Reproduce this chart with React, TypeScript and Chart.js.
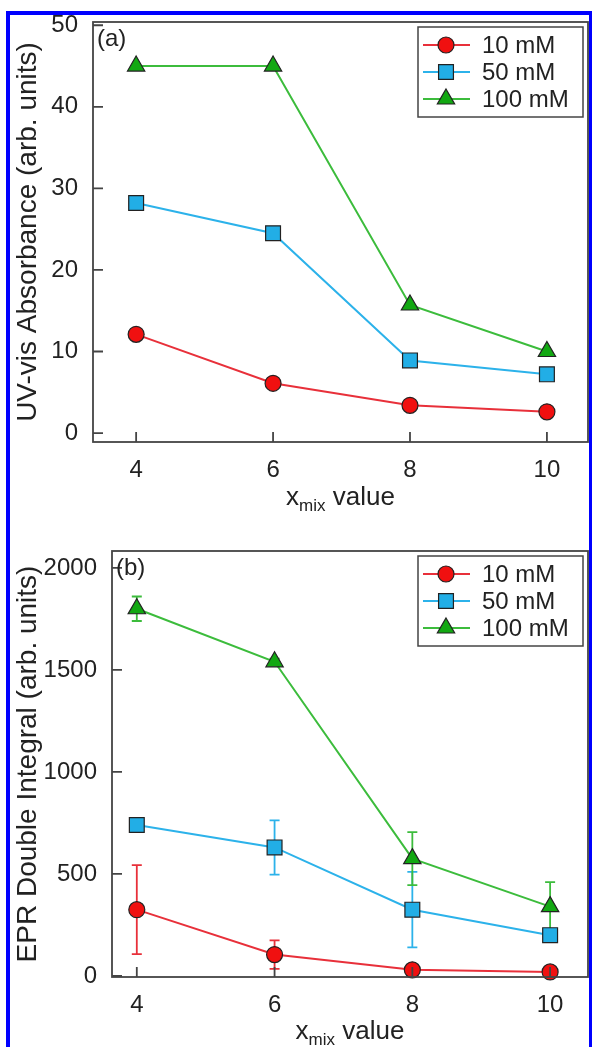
import React, { useEffect, useRef } from "react";
import { Chart, registerables } from "chart.js";

Chart.register(...registerables);

// ---------- data ----------
const X_VALUES = [4, 6, 8, 10];
const X_TICKS = [4, 6, 8, 10];
const SERIES_LABELS = ["10 mM", "50 mM", "100 mM"];

const UV_10 = [12.1, 6.1, 3.4, 2.6];
const UV_50 = [28.2, 24.5, 8.9, 7.2];
const UV_100 = [45.0, 45.0, 15.7, 10.0];
const UV_Y_TICKS = [0, 10, 20, 30, 40, 50];

const EPR_10 = [325, 105, 30, 20];
const EPR_50 = [740, 630, 325, 200];
const EPR_100 = [1800, 1540, 575, 340];
const EPR_10_ERR = [218, 70, 10, 5];
const EPR_50_ERR = [0, 133, 185, 10];
const EPR_100_ERR = [60, 15, 130, 120];
const EPR_Y_TICKS = [0, 500, 1000, 1500, 2000];

// ---------- styles ----------
const LINE_COLORS = ["#e8303a", "#2cb2ea", "#3cbc3c"];
const FILL_COLORS = ["#f01010", "#22aee6", "#12a812"];
const POINT_STYLES = ["circle", "rect", "triangle"];
const POINT_RADII = [8, 10.5, 10];
const FONT = "'Liberation Sans', Arial, sans-serif";
const TEXT = "#222";
const AXIS = "#444";

function drawMarker(ctx: CanvasRenderingContext2D, style: string, x: number, y: number, r: number) {
  ctx.beginPath();
  if (style === "circle") {
    ctx.arc(x, y, r, 0, Math.PI * 2);
  } else if (style === "rect") {
    const s = Math.SQRT1_2 * r;
    ctx.rect(x - s, y - s, 2 * s, 2 * s);
  } else {
    ctx.moveTo(x, y - r);
    ctx.lineTo(x + Math.sin((2 * Math.PI) / 3) * r, y - Math.cos((2 * Math.PI) / 3) * r);
    ctx.lineTo(x + Math.sin((4 * Math.PI) / 3) * r, y - Math.cos((4 * Math.PI) / 3) * r);
    ctx.closePath();
  }
  ctx.fill();
  ctx.stroke();
}

function makeDecor(panel: string, xTitleY: number, errors: number[][] | null) {
  return {
    id: "decor",
    beforeDatasetsDraw(chart: any) {
      if (!errors) return;
      const ctx = chart.ctx;
      const xs = chart.scales.x;
      const ys = chart.scales.y;
      ctx.save();
      chart.data.datasets.forEach((ds: any, i: number) => {
        ds.data.forEach((pt: any, j: number) => {
          const e = errors[i][j];
          if (!e) return;
          const px = xs.getPixelForValue(pt.x);
          const y1 = ys.getPixelForValue(pt.y + e);
          const y2 = ys.getPixelForValue(pt.y - e);
          ctx.strokeStyle = LINE_COLORS[i];
          ctx.lineWidth = 1.8;
          ctx.beginPath();
          ctx.moveTo(px, y1);
          ctx.lineTo(px, y2);
          ctx.moveTo(px - 5, y1);
          ctx.lineTo(px + 5, y1);
          ctx.moveTo(px - 5, y2);
          ctx.lineTo(px + 5, y2);
          ctx.stroke();
        });
      });
      ctx.restore();
    },
    afterDraw(chart: any) {
      const ctx = chart.ctx;
      const a = chart.chartArea;
      const xs = chart.scales.x;
      const ys = chart.scales.y;
      ctx.save();
      // frame
      ctx.strokeStyle = AXIS;
      ctx.lineWidth = 1.8;
      ctx.strokeRect(a.left, a.top, a.right - a.left, a.bottom - a.top);
      // inward ticks
      ctx.beginPath();
      xs.ticks.forEach((t: any) => {
        const px = xs.getPixelForValue(t.value);
        ctx.moveTo(px, a.bottom);
        ctx.lineTo(px, a.bottom - 10);
      });
      ys.ticks.forEach((t: any) => {
        const py = ys.getPixelForValue(t.value);
        ctx.moveTo(a.left, py);
        ctx.lineTo(a.left + 10, py);
      });
      ctx.stroke();
      // panel label
      ctx.fillStyle = TEXT;
      ctx.font = `24px ${FONT}`;
      ctx.textAlign = "left";
      ctx.textBaseline = "middle";
      ctx.fillText(panel, a.left + 4, a.top + 17);
      // x title with subscript
      const big = `26px ${FONT}`;
      const small = `17px ${FONT}`;
      ctx.font = big;
      const w1 = ctx.measureText("x").width;
      const w3 = ctx.measureText(" value").width;
      ctx.font = small;
      const w2 = ctx.measureText("mix").width;
      let sx = (a.left + a.right) / 2 - (w1 + w2 + w3) / 2;
      ctx.textBaseline = "alphabetic";
      ctx.font = big;
      ctx.fillText("x", sx, xTitleY);
      sx += w1;
      ctx.font = small;
      ctx.fillText("mix", sx, xTitleY + 6);
      sx += w2;
      ctx.font = big;
      ctx.fillText(" value", sx, xTitleY);
      // legend
      const bw = 165;
      const bh = 90;
      const bx = a.right - 5 - bw;
      const by = a.top + 5;
      ctx.fillStyle = "#fff";
      ctx.fillRect(bx, by, bw, bh);
      ctx.strokeStyle = AXIS;
      ctx.lineWidth = 1.5;
      ctx.strokeRect(bx, by, bw, bh);
      chart.data.datasets.forEach((ds: any, i: number) => {
        const ry = by + 18 + i * 27;
        ctx.strokeStyle = LINE_COLORS[i];
        ctx.lineWidth = 2;
        ctx.beginPath();
        ctx.moveTo(bx + 5, ry);
        ctx.lineTo(bx + 52, ry);
        ctx.stroke();
        ctx.fillStyle = FILL_COLORS[i];
        ctx.strokeStyle = "#222";
        ctx.lineWidth = 1.2;
        drawMarker(ctx, POINT_STYLES[i], bx + 28, ry, POINT_RADII[i]);
        ctx.fillStyle = TEXT;
        ctx.font = `24px ${FONT}`;
        ctx.textAlign = "left";
        ctx.textBaseline = "middle";
        ctx.fillText(ds.label, bx + 64, ry + 1);
      });
      ctx.restore();
    },
  };
}

function buildDatasets(series: number[][]) {
  return series.map((vals, i) => ({
    label: SERIES_LABELS[i],
    data: X_VALUES.map((x, j) => ({ x, y: vals[j] })),
    borderColor: LINE_COLORS[i],
    backgroundColor: FILL_COLORS[i],
    borderWidth: 2,
    pointStyle: POINT_STYLES[i],
    pointRadius: POINT_RADII[i],
    pointBackgroundColor: FILL_COLORS[i],
    pointBorderColor: "#222",
    pointBorderWidth: 1.2,
    tension: 0,
    clip: false,
  }));
}

type PanelProps = {
  top: number;
  height: number;
  series: number[][];
  errors: number[][] | null;
  yTicks: number[];
  yMin: number;
  yMax: number;
  xMin: number;
  xMax: number;
  yTitle: string;
  panel: string;
  padTop: number;
  yWidth: number;
  xHeight: number;
  xTitleY: number;
};

function Panel(p: PanelProps) {
  const ref = useRef<HTMLCanvasElement>(null);
  useEffect(() => {
    if (!ref.current) return;
    const chart = new Chart(ref.current, {
      type: "line",
      data: { datasets: buildDatasets(p.series) as any },
      options: {
        animation: false,
        responsive: false,
        maintainAspectRatio: false,
        layout: { autoPadding: false, padding: { left: 11, right: 4, top: p.padTop, bottom: 0 } },
        plugins: { legend: { display: false }, tooltip: { enabled: false } },
        scales: {
          x: {
            type: "linear",
            min: p.xMin,
            max: p.xMax,
            grid: { display: false },
            border: { display: false },
            afterBuildTicks: (s: any) => {
              s.ticks = X_TICKS.map((v) => ({ value: v }));
            },
            afterFit: (s: any) => {
              s.height = p.xHeight;
              s.paddingLeft = 0;
              s.paddingRight = 0;
            },
            ticks: {
              font: { family: FONT, size: 24 },
              color: TEXT,
              padding: 6,
              maxRotation: 0,
              callback: (v: any) => String(v),
            },
          },
          y: {
            type: "linear",
            min: p.yMin,
            max: p.yMax,
            grid: { display: false },
            border: { display: false },
            afterBuildTicks: (s: any) => {
              s.ticks = p.yTicks.map((v) => ({ value: v }));
            },
            afterFit: (s: any) => {
              s.width = p.yWidth;
              s.paddingTop = 0;
              s.paddingBottom = 0;
            },
            ticks: {
              font: { family: FONT, size: 24 },
              color: TEXT,
              padding: 7,
              callback: (v: any) => String(v),
            },
            title: {
              display: true,
              text: p.yTitle,
              font: { family: FONT, size: 28 },
              color: TEXT,
              padding: { top: 0, bottom: 0 },
            },
          },
        },
      },
      plugins: [makeDecor(p.panel, p.xTitleY, p.errors)],
    });
    return () => chart.destroy();
  }, []);
  return (
    <canvas
      ref={ref}
      width={592}
      height={p.height}
      style={{ position: "absolute", left: 0, top: p.top, width: 592, height: p.height }}
    />
  );
}

export default function App() {
  return (
    <div
      style={{
        position: "fixed",
        left: 0,
        top: 0,
        width: 592,
        height: 1047,
        background: "#fff",
        overflow: "hidden",
      }}
    >
      <Panel
        top={0}
        height={525}
        series={[UV_10, UV_50, UV_100]}
        errors={null}
        yTicks={UV_Y_TICKS}
        yMin={-1.1}
        yMax={50.4}
        xMin={3.37}
        xMax={10.6}
        yTitle="UV-vis Absorbance (arb. units)"
        panel="(a)"
        padTop={22}
        yWidth={82}
        xHeight={83}
        xTitleY={505}
      />
      <Panel
        top={525}
        height={522}
        series={[EPR_10, EPR_50, EPR_100]}
        errors={[EPR_10_ERR, EPR_50_ERR, EPR_100_ERR]}
        yTicks={EPR_Y_TICKS}
        yMin={-5}
        yMax={2083}
        xMin={3.64}
        xMax={10.55}
        yTitle="EPR Double Integral (arb. units)"
        panel="(b)"
        padTop={26}
        yWidth={101}
        xHeight={70}
        xTitleY={514}
      />
      <div style={{ position: "absolute", left: 6, top: 11, width: 4, height: 1036, background: "#0000ff" }} />
      <div style={{ position: "absolute", left: 6, top: 11, width: 586, height: 4, background: "#0000ff" }} />
      <div style={{ position: "absolute", left: 589, top: 11, width: 3, height: 1036, background: "#0000ff" }} />
    </div>
  );
}
